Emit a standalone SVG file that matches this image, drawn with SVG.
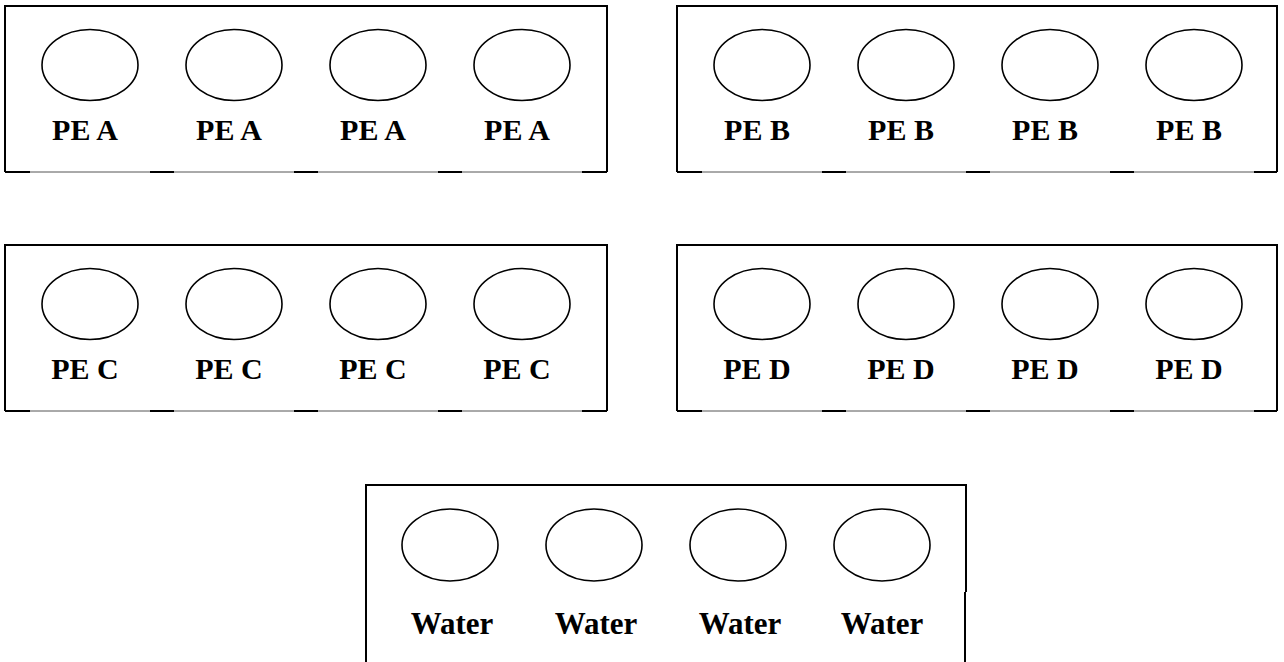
<svg xmlns="http://www.w3.org/2000/svg" width="1284" height="662" viewBox="0 0 1284 662">
<defs>
<style>
.frame{fill:none;stroke:#000;stroke-width:2}
.base{fill:none;stroke:#555;stroke-width:1}
.tick{fill:none;stroke:#000;stroke-width:2}
.well{fill:#fff;stroke:#000;stroke-width:1.6}
.lbl{font-family:"Liberation Serif","Times New Roman",serif;font-weight:bold;font-size:30px;fill:#000;text-anchor:middle}
.lblw{font-family:"Liberation Serif","Times New Roman",serif;font-weight:bold;font-size:31px;fill:#000;text-anchor:middle}
</style>
</defs>
<rect width="1284" height="662" fill="#fff"/>

<g id="plateA">
<path class="frame" d="M5,172 V6 H607 V172"/>
<path class="base" d="M5,172 H607"/>
<path class="tick" d="M5,172 H30 M150,172 H174 M294,172 H318 M438,172 H462 M582,172 H607"/>
<ellipse class="well" cx="90" cy="65" rx="48" ry="35.5"/>
<ellipse class="well" cx="234" cy="65" rx="48" ry="35.5"/>
<ellipse class="well" cx="378" cy="65" rx="48" ry="35.5"/>
<ellipse class="well" cx="522" cy="65" rx="48" ry="35.5"/>
<text class="lbl" x="85" y="140">PE A</text>
<text class="lbl" x="229" y="140">PE A</text>
<text class="lbl" x="373" y="140">PE A</text>
<text class="lbl" x="517" y="140">PE A</text>
</g>

<g id="plateB">
<path class="frame" d="M677,172 V6 H1277 V172"/>
<path class="base" d="M677,172 H1277"/>
<path class="tick" d="M677,172 H702 M822,172 H846 M966,172 H990 M1110,172 H1134 M1254,172 H1277"/>
<ellipse class="well" cx="762" cy="65" rx="48" ry="35.5"/>
<ellipse class="well" cx="906" cy="65" rx="48" ry="35.5"/>
<ellipse class="well" cx="1050" cy="65" rx="48" ry="35.5"/>
<ellipse class="well" cx="1194" cy="65" rx="48" ry="35.5"/>
<text class="lbl" x="757" y="140">PE B</text>
<text class="lbl" x="901" y="140">PE B</text>
<text class="lbl" x="1045" y="140">PE B</text>
<text class="lbl" x="1189" y="140">PE B</text>
</g>

<g id="plateC">
<path class="frame" d="M5,411 V245 H607 V411"/>
<path class="base" d="M5,411 H607"/>
<path class="tick" d="M5,411 H30 M150,411 H174 M294,411 H318 M438,411 H462 M582,411 H607"/>
<ellipse class="well" cx="90" cy="304" rx="48" ry="35.5"/>
<ellipse class="well" cx="234" cy="304" rx="48" ry="35.5"/>
<ellipse class="well" cx="378" cy="304" rx="48" ry="35.5"/>
<ellipse class="well" cx="522" cy="304" rx="48" ry="35.5"/>
<text class="lbl" x="85" y="379">PE C</text>
<text class="lbl" x="229" y="379">PE C</text>
<text class="lbl" x="373" y="379">PE C</text>
<text class="lbl" x="517" y="379">PE C</text>
</g>

<g id="plateD">
<path class="frame" d="M677,411 V245 H1277 V411"/>
<path class="base" d="M677,411 H1277"/>
<path class="tick" d="M677,411 H702 M822,411 H846 M966,411 H990 M1110,411 H1134 M1254,411 H1277"/>
<ellipse class="well" cx="762" cy="304" rx="48" ry="35.5"/>
<ellipse class="well" cx="906" cy="304" rx="48" ry="35.5"/>
<ellipse class="well" cx="1050" cy="304" rx="48" ry="35.5"/>
<ellipse class="well" cx="1194" cy="304" rx="48" ry="35.5"/>
<text class="lbl" x="757" y="379">PE D</text>
<text class="lbl" x="901" y="379">PE D</text>
<text class="lbl" x="1045" y="379">PE D</text>
<text class="lbl" x="1189" y="379">PE D</text>
</g>

<g id="plateWater">
<path class="frame" d="M366,662 V485 H966 V592"/>
<path class="frame" d="M965,592 V662" stroke-width="1.5"/>
<ellipse class="well" cx="450" cy="545" rx="48" ry="36"/>
<ellipse class="well" cx="594" cy="545" rx="48" ry="36"/>
<ellipse class="well" cx="738" cy="545" rx="48" ry="36"/>
<ellipse class="well" cx="882" cy="545" rx="48" ry="36"/>
<text class="lblw" x="452" y="634">Water</text>
<text class="lblw" x="596" y="634">Water</text>
<text class="lblw" x="740" y="634">Water</text>
<text class="lblw" x="882" y="634">Water</text>
</g>

<g id="connectors"></g>
</svg>
